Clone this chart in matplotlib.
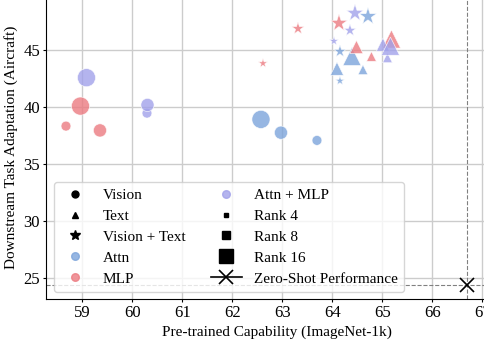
import numpy as np
import matplotlib
matplotlib.use("Agg")
import matplotlib.pyplot as plt
from matplotlib.lines import Line2D

plt.rcParams["font.family"] = ["Liberation Serif", "DejaVu Serif"]

ranks = [4, 8, 16]

# Vision adapters (circles)
vision_attn_x = [63.69, 62.97, 62.57]
vision_attn_y = [37.08, 37.76, 38.93]
vision_mlp_x = [58.67, 59.35, 58.96]
vision_mlp_y = [38.34, 37.96, 40.10]
vision_both_x = [60.29, 60.30, 59.08]
vision_both_y = [39.48, 40.20, 42.60]

# Text adapters (triangles)
text_attn_x = [64.61, 64.09, 64.39]
text_attn_y = [43.30, 43.39, 44.47]
text_mlp_x = [64.78, 64.48, 65.18]
text_mlp_y = [44.47, 45.30, 46.00]
text_both_x = [65.10, 65.01, 65.16]
text_both_y = [44.35, 45.51, 45.37]

# Vision + Text adapters (stars)
vt_attn_x = [64.15, 64.15, 64.71]
vt_attn_y = [42.32, 44.91, 47.99]
vt_mlp_x = [62.61, 63.31, 64.13]
vt_mlp_y = [43.86, 46.92, 47.40]
vt_both_x = [64.03, 64.35, 64.45]
vt_both_y = [45.82, 46.76, 48.28]

zero_shot_x = 66.70
zero_shot_y = 24.35

colors = {"Attn": "#7ca4db", "MLP": "#ec7b81", "Attn + MLP": "#a1a1ea"}
rank_size = {4: 50, 8: 90, 16: 170}

groups = [
    ("o", "Attn", vision_attn_x, vision_attn_y),
    ("o", "MLP", vision_mlp_x, vision_mlp_y),
    ("o", "Attn + MLP", vision_both_x, vision_both_y),
    ("^", "Attn", text_attn_x, text_attn_y),
    ("^", "MLP", text_mlp_x, text_mlp_y),
    ("^", "Attn + MLP", text_both_x, text_both_y),
    ("*", "Attn", vt_attn_x, vt_attn_y),
    ("*", "MLP", vt_mlp_x, vt_mlp_y),
    ("*", "Attn + MLP", vt_both_x, vt_both_y),
]

fig = plt.figure(figsize=(4.85, 3.46), dpi=100)
ax = fig.add_axes([0.0948, 0.135, 0.9515, 0.877])

for marker, loc, xs, ys in groups:
    sizes = [rank_size[r] for r in ranks]
    ax.scatter(xs, ys, s=sizes, marker=marker, c=colors[loc], alpha=0.8,
               edgecolors="white", linewidths=0.5, zorder=3)

ax.axvline(zero_shot_x, color="gray", ls="--", lw=0.8, zorder=2)
ax.axhline(zero_shot_y, color="gray", ls="--", lw=0.8, zorder=2)
ax.plot([zero_shot_x], [zero_shot_y], marker="x", color="black",
        markersize=10, mew=1.2, ls="none", zorder=4)

ax.set_xlim(58.27, 67.5)
ax.set_ylim(23.1, 49.8)
ax.set_xticks(np.arange(59, 68, 1))
ax.set_yticks(np.arange(25, 50, 5))
ax.grid(True, color="#cccccc", lw=1.0, zorder=0)
ax.set_axisbelow(True)
for side in ["top", "right"]:
    ax.spines[side].set_visible(False)
ax.tick_params(labelsize=12, length=2.5, pad=1.8)
ax.set_xlabel("Pre-trained Capability (ImageNet-1k)", fontsize=11, labelpad=3)
ax.set_ylabel("Downstream Task Adaptation (Aircraft)", fontsize=11, labelpad=4)

handles = [
    Line2D([], [], marker="o", color="black", ls="none", markersize=5),
    Line2D([], [], marker="^", color="black", ls="none", markersize=5),
    Line2D([], [], marker="*", color="black", ls="none", markersize=7),
    Line2D([], [], marker="o", color=colors["Attn"], alpha=0.8, ls="none", markersize=5.5),
    Line2D([], [], marker="o", color=colors["MLP"], alpha=0.8, ls="none", markersize=5.5),
    Line2D([], [], marker="o", color=colors["Attn + MLP"], alpha=0.8, ls="none", markersize=5.5),
    Line2D([], [], marker="s", color="black", ls="none", markersize=3.5),
    Line2D([], [], marker="s", color="black", ls="none", markersize=6),
    Line2D([], [], marker="s", color="black", ls="none", markersize=9.5),
    Line2D([], [], marker="x", color="black", markersize=10, mew=1.2, lw=1.2),
]
labels = ["Vision", "Text", "Vision + Text", "Attn", "MLP",
          "Attn + MLP", "Rank 4", "Rank 8", "Rank 16", "Zero-Shot Performance"]
ax.legend(handles, labels, ncol=2, fontsize=11, loc="lower left",
          bbox_to_anchor=(0.0, 0.0), labelspacing=0.47, columnspacing=1.7,
          handletextpad=0.8)

fig.savefig("out.png", dpi=100)
